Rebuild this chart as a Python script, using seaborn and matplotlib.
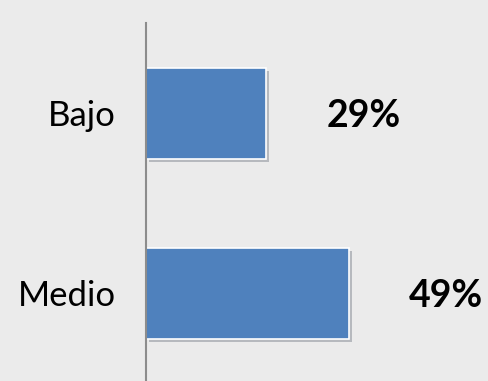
import matplotlib
matplotlib.use("Agg")
import matplotlib.pyplot as plt
import matplotlib.patheffects as pe
import seaborn as sns
import pandas as pd

# datos
categorias = ["Bajo", "Medio"]
porcentajes = [29, 49]
etiquetas = ["29%", "49%"]

sns.set_style("white")
plt.rcParams["font.family"] = ["Lato", "DejaVu Sans"]

df = pd.DataFrame({"nivel": categorias, "valor": porcentajes})

fig = plt.figure(figsize=(4.88, 3.81), dpi=100)
fig.patch.set_facecolor("#ebebeb")
ax = fig.add_axes([0.300, 0.0, 0.700, 0.940])
ax.set_facecolor("#ebebeb")

sns.barplot(data=df, x="valor", y="nivel", orient="h", color="#4F81BD",
            saturation=1, width=0.505, edgecolor="white", linewidth=1.2, ax=ax)

for bar in ax.patches:
    bar.set_path_effects([pe.SimplePatchShadow(offset=(2, -2), alpha=0.25),
                          pe.Normal()])

# etiquetas de porcentaje
for i, (v, txt) in enumerate(zip(porcentajes, etiquetas)):
    ax.annotate(txt, xy=(v, i), xytext=(97, -3), textcoords="offset pixels",
                ha="center", va="center", fontsize=27, fontweight="bold",
                color="black")

ax.set_xlim(0, 82.5)
ax.set_ylim(1.486, -0.503)
ax.set_xlabel("")
ax.set_ylabel("")
ax.set_xticks([])
ax.tick_params(axis="y", length=0, pad=22, labelsize=25, labelcolor="black")

for s in ["top", "right", "bottom"]:
    ax.spines[s].set_visible(False)
ax.spines["left"].set_color("#8c8c8c")
ax.spines["left"].set_linewidth(1.5)

fig.savefig("out.png", dpi=100, facecolor=fig.get_facecolor())
